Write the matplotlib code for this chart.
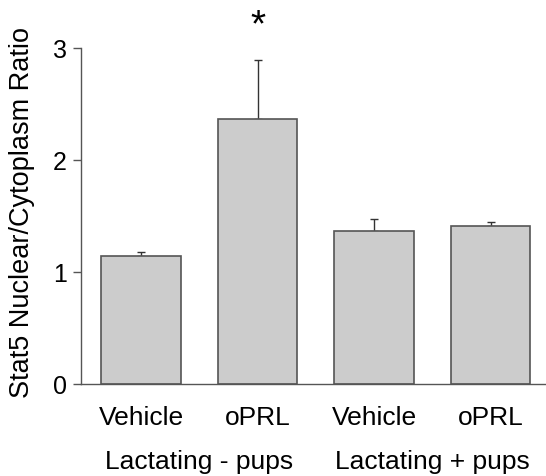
import matplotlib
matplotlib.use("Agg")
import matplotlib.pyplot as plt

plt.rcParams["font.family"] = ["Liberation Sans", "DejaVu Sans"]

# data
conditions = ["Vehicle", "oPRL", "Vehicle", "oPRL"]
groups = ["Lactating - pups", "Lactating + pups"]
ratio = [1.14, 2.37, 1.37, 1.41]
sem = [0.04, 0.52, 0.10, 0.04]
y_ticks = [0, 1, 2, 3]

BAR_FILL = "#cccccc"
EDGE = "#555555"

fig = plt.figure(figsize=(5.46, 4.76), dpi=100)
ax = fig.add_axes([81 / 546, 1 - 384 / 476, 1 - 81 / 546, 336 / 476])

x = list(range(len(ratio)))
ax.bar(x, ratio, width=0.68, color=BAR_FILL, edgecolor=EDGE, linewidth=1.2, zorder=2)
ax.errorbar(x, ratio, yerr=[[0] * len(sem), sem], fmt="none", ecolor="#333333",
            elinewidth=1.0, capsize=3, capthick=1.0, zorder=1)

ax.set_xlim(-0.515, 3.476)
ax.set_ylim(0, 3)
ax.set_yticks(y_ticks)
ax.set_xticks([])
ax.tick_params(axis="y", direction="out", length=6, width=1, color=EDGE,
               labelsize=18, pad=4)

for side in ("top", "right"):
    ax.spines[side].set_visible(False)
for side in ("left", "bottom"):
    ax.spines[side].set_color(EDGE)
    ax.spines[side].set_linewidth(1.0)

# category and group labels under the axis
trans = ax.get_xaxis_transform()
for xi, name in zip(x, conditions):
    ax.text(xi, -0.1, name, transform=trans, ha="center", va="center", fontsize=19)
for gi, name in enumerate(groups):
    ax.text(2 * gi + 0.5, -0.232, name, transform=trans, ha="center", va="center",
            fontsize=19)

# significance marker
ax.text(1, 3.19, "*", ha="center", va="center", fontsize=28, clip_on=False)

fig.text(22 / 546, 1 - 213 / 476, "Stat5 Nuclear/Cytoplasm Ratio", rotation=90,
         ha="center", va="center", fontsize=19.5)

fig.savefig("out.png", dpi=100)
